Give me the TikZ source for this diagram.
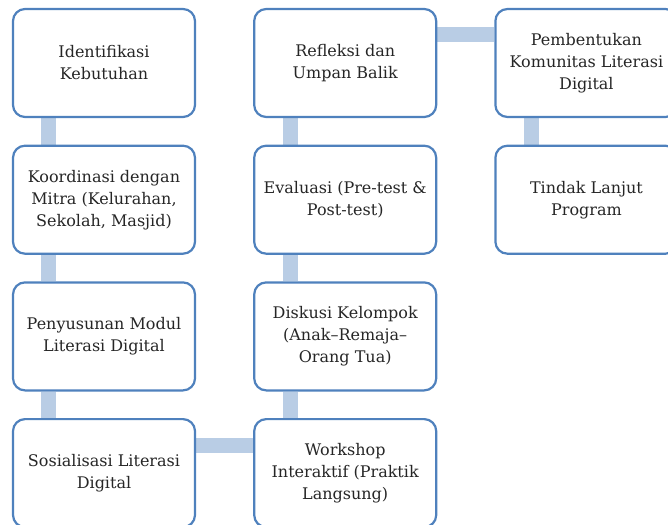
\documentclass[tikz,border=0pt]{standalone}
\usepackage{fontspec}
\setmainfont{DejaVu Serif}
\usetikzlibrary{positioning,backgrounds}
\definecolor{boxblue}{RGB}{79,129,189}
\definecolor{linkblue}{RGB}{185,205,229}

\begin{document}
\begin{tikzpicture}
	\tikzstyle{tahap}=[rectangle, rounded corners=12pt, draw=boxblue, line width=2.2pt, fill=white, minimum width=182pt, minimum height=108pt, align=center, text=black!85, font=\fontsize{16}{22}\selectfont, node distance=26.5pt and 57pt]
	\tikzstyle{hubung}=[draw=linkblue, line width=15pt]
	\useasboundingbox (0,0) rectangle (668pt,-524pt);
	\node[tahap] (identifikasi) at (104pt,-63pt) {Identifikasi\\Kebutuhan};
	\node[tahap] (koordinasi) [below=of identifikasi] {Koordinasi dengan\\Mitra (Kelurahan,\\Sekolah, Masjid)};
	\node[tahap] (modul) [below=of koordinasi] {Penyusunan Modul\\Literasi Digital};
	\node[tahap] (sosialisasi) [below=of modul] {Sosialisasi Literasi\\Digital};
	\node[tahap] (workshop) [right=of sosialisasi] {Workshop\\Interaktif (Praktik\\Langsung)};
	\node[tahap] (diskusi) [above=of workshop] {Diskusi Kelompok\\(Anak--Remaja--\\Orang Tua)};
	\node[tahap] (evaluasi) [above=of diskusi] {Evaluasi (Pre-test \&\\Post-test)};
	\node[tahap] (refleksi) [above=of evaluasi] {Refleksi dan\\Umpan Balik};
	\node[tahap] (komunitas) [right=of refleksi] {Pembentukan\\Komunitas Literasi\\Digital};
	\node[tahap] (tindak) [below=of komunitas] {Tindak Lanjut\\Program};
	\begin{scope}[on background layer]
		\path[hubung] ([xshift=37pt]identifikasi.south west) -- ([xshift=37pt]koordinasi.north west);
		\path[hubung] ([xshift=37pt]koordinasi.south west) -- ([xshift=37pt]modul.north west);
		\path[hubung] ([xshift=37pt]modul.south west) -- ([xshift=37pt]sosialisasi.north west);
		\path[hubung] ([yshift=-27pt]sosialisasi.north east) -- ([yshift=-27pt]workshop.north west);
		\path[hubung] ([xshift=37pt]workshop.north west) -- ([xshift=37pt]diskusi.south west);
		\path[hubung] ([xshift=37pt]diskusi.north west) -- ([xshift=37pt]evaluasi.south west);
		\path[hubung] ([xshift=37pt]evaluasi.north west) -- ([xshift=37pt]refleksi.south west);
		\path[hubung] ([yshift=-27pt]refleksi.north east) -- ([yshift=-27pt]komunitas.north west);
		\path[hubung] ([xshift=37pt]komunitas.south west) -- ([xshift=37pt]tindak.north west);
	\end{scope}
\end{tikzpicture}
\end{document}
